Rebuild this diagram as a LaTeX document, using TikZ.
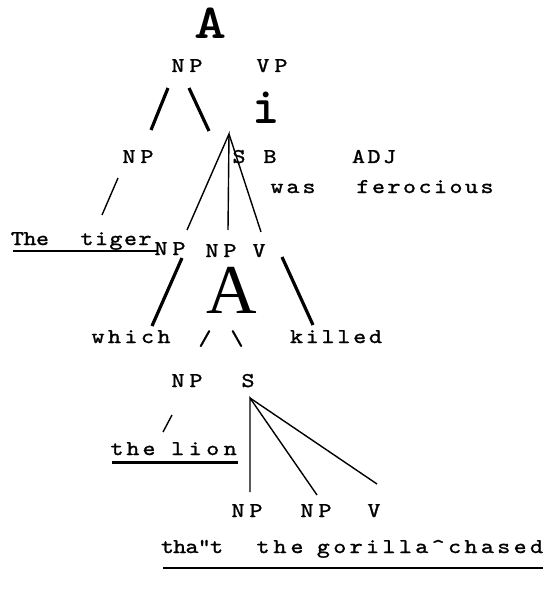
\documentclass[tikz,border=0pt]{standalone}
\usepackage{fontspec}
\newfontfamily\romfont{Liberation Serif}
\newfontfamily\twfont{lmmono10-regular.otf}[FakeBold=1.3,FakeStretch=1.18]
% typewriter words, one box per letter
\makeatletter
\newcommand\spc[2]{\@tfor\spch:=#2\do{\makebox[#1pt]{\spch}}}
\makeatother

\begin{document}
\begin{tikzpicture}[x=1pt,y=-1pt,
  word/.style={font=\fontsize{21}{21}\selectfont\twfont,inner sep=0pt,anchor=base},
  stem/.style={line width=1.4pt},
  bar/.style={line width=3.2pt},
  uline/.style={line width=2pt}]
\useasboundingbox (0,0) rectangle (548,596);
% big letters
\node[inner sep=0pt] (topA) at (211,23) {\scalebox{1.25}[1]{\fontsize{49}{49}\selectfont\ttfamily\bfseries A}};
\node[inner sep=0pt] (bigi) at (266,108) {\fontsize{52}{52}\selectfont\ttfamily\bfseries i};
\node[inner sep=0pt] (midA) at (232,290) {\fontsize{70}{70}\selectfont\romfont A};
% words
\node[word] (np1) at (187,72) {\spc{18}{NP}};
\node[word] (vp1) at (272,72) {\spc{18}{VP}};
\node[word] (np2) at (138,163) {\spc{18}{NP}};
\node[word] (s2) at (239,163) {\spc{12}{S}};
\node[word] (b2) at (270,163) {\spc{12}{B}};
\node[word] (adj) at (374,163) {\spc{15.5}{ADJ}};
\node[word] (was) at (293,193) {\spc{16}{was}};
\node[word] (fero) at (425,193) {\spc{15.5}{ferocious}};
\node[word] (the1) at (30,245) {\spc{12.5}{The}};
\node[word] (tiger) at (116,245) {\spc{14.5}{tiger}};
\node[word] (np3a) at (170,255) {\spc{18}{NP}};
\node[word] (np3b) at (221,257) {\spc{18}{NP}};
\node[word] (v3) at (259,257) {\spc{12}{V}};
\node[word] (which) at (131,343) {\spc{16.5}{which}};
\node[word] (sl) at (205,345) {\spc{12}{/}};
\node[word] (bsl) at (237,345) {\spc{12}{\textbackslash}};
\node[word] (killed) at (336,343) {\spc{15.8}{killed}};
\node[word] (np4) at (187,387) {\spc{18}{NP}};
\node[word] (s4) at (248,387) {\spc{12}{S}};
\node[word] (the2) at (133,455) {\spc{16}{the}};
\node[word] (lion) at (204,455) {\spc{17.5}{lion}};
\node[word] (np5a) at (247,517) {\spc{18}{NP}};
\node[word] (np5b) at (316,517) {\spc{18}{NP}};
\node[word] (v5) at (374,517) {\spc{12}{V}};
\node[word] (that) at (192,553) {\spc{12.3}{tha"t}};
\node[word] (the3) at (280,553) {\spc{17}{the}};
\node[word] (gor) at (430,553) {\spc{16.4}{gorilla\textasciicircum chased}};
% end points of the branches
\coordinate (a1) at (168,88);  \coordinate (a2) at (151,130);
\coordinate (b1) at (189,88);  \coordinate (b2) at (209,131);
\coordinate (c1) at (182,258); \coordinate (c2) at (152,326);
\coordinate (d1) at (282,257); \coordinate (d2) at (313,325);
\coordinate (top) at (229,134);
\coordinate (t1) at (187,230); \coordinate (t2) at (228,230); \coordinate (t3) at (261,232);
\coordinate (e1) at (118,178); \coordinate (e2) at (102,215);
\coordinate (f1) at (172,415); \coordinate (f2) at (163,432);
\coordinate (apex) at (250,398);
\coordinate (g1) at (250,492); \coordinate (g2) at (317,495); \coordinate (g3) at (377,484);
\coordinate (u1) at (13,251);  \coordinate (u2) at (157,251);
\coordinate (w1) at (112,462); \coordinate (w2) at (238,462);
\coordinate (z1) at (163,568); \coordinate (z2) at (543,568);
% branches
\draw[bar] (a1) -- (a2);
\draw[bar] (b1) -- (b2);
\draw[bar] (c1) -- (c2);
\draw[bar] (d1) -- (d2);
\draw[stem] (t1) -- (top) -- (t2);
\draw[stem] (top) -- (t3);
\draw[stem] (e1) -- (e2);
\draw[stem] (f1) -- (f2);
\draw[stem] (g1) -- (apex) -- (g2);
\draw[stem] (apex) -- (g3);
% underlines
\draw[uline] (u1) -- (u2);
\draw[line width=3pt] (w1) -- (w2);
\draw[uline] (z1) -- (z2);
\end{tikzpicture}
\end{document}
